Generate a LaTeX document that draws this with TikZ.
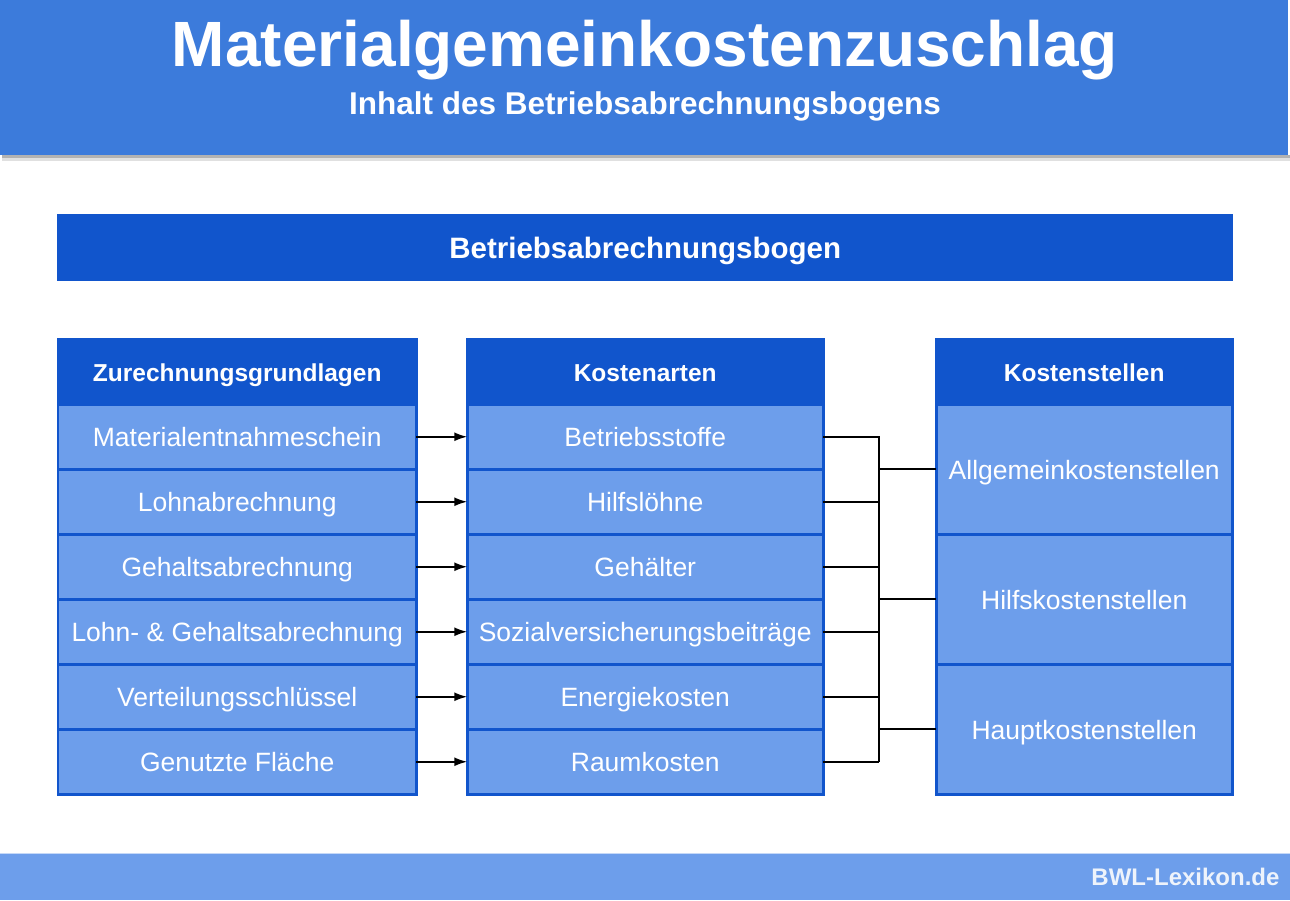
\documentclass[tikz,border=0pt]{standalone}
\usepackage{fontspec}
\setmainfont{Liberation Sans}
\usetikzlibrary{matrix,arrows.meta}
\definecolor{bandblue}{HTML}{3C7BDB}
\definecolor{darkblue}{HTML}{1155CC}
\definecolor{cellblue}{HTML}{6D9EEB}
\definecolor{foottext}{HTML}{EEF3FB}

\tikzset{
	cell/.style={fill=cellblue, draw=darkblue, line width=2.5pt, text=white, font=\fontsize{26.5}{30}\selectfont, text height=21pt, text depth=1pt, minimum height=65pt, outer sep=0pt, inner sep=0pt, anchor=center},
	head/.style={fill=darkblue, font=\fontsize{24.5}{30}\selectfont\bfseries},
	link/.style={line width=1.8pt, -{Latex[length=13pt,width=9pt]}},
	bus/.style={line width=1.8pt},
}

\begin{document}
\begin{tikzpicture}[x=1pt,y=-1pt]
		\useasboundingbox (0,0) rectangle (1290,900);
		% header band
		\fill[black!12] (2,155) rectangle (1290,161);
		\fill[black!30] (2,155) rectangle (1290,158);
		\fill[bandblue] (0,0) rectangle (1288,155);
		\node (title) [text=white, font=\fontsize{64}{68}\selectfont\bfseries] at (645,50) {Materialgemeinkostenzuschlag};
		\node (subtitle) [text=white, font=\fontsize{31.5}{34}\selectfont\bfseries] at (645,106) {Inhalt des Betriebsabrechnungsbogens};
		% title bar
		\node (bab) [fill=darkblue, text=white, font=\fontsize{29.5}{32}\selectfont\bfseries, text height=22pt, text depth=1pt, minimum width=1176pt, minimum height=67pt, anchor=north west] at (57,214) {Betriebsabrechnungsbogen};
		% columns
		\matrix (zg) [matrix of nodes, anchor=north west, inner sep=0pt, outer sep=0pt, row sep=-2.5pt, nodes={cell, minimum width=358pt}, row 1/.style={nodes={head}}] at (57,338)
		{
			Zurechnungsgrundlagen \\
			Materialentnahmeschein \\
			Lohnabrechnung \\
			Gehaltsabrechnung \\
			Lohn- \& Gehaltsabrechnung \\
			Verteilungsschlüssel \\
			Genutzte Fläche \\
		};
		\matrix (ka) [matrix of nodes, anchor=north west, inner sep=0pt, outer sep=0pt, row sep=-2.5pt, nodes={cell, minimum width=356pt}, row 1/.style={nodes={head}}] at (466,338)
		{
			Kostenarten \\
			Betriebsstoffe \\
			Hilfslöhne \\
			Gehälter \\
			Sozialversicherungsbeiträge \\
			Energiekosten \\
			Raumkosten \\
		};
		\matrix (ks) [matrix of nodes, anchor=north west, inner sep=0pt, outer sep=0pt, row sep=-2.5pt, nodes={cell, minimum width=296pt, minimum height=130pt}, row 1/.style={nodes={head, minimum height=65pt}}] at (935,338)
		{
			Kostenstellen \\
			Allgemeinkostenstellen \\
			Hilfskostenstellen \\
			Hauptkostenstellen \\
		};
		% footer
		\fill[cellblue] (0,853) rectangle (1290,900);
		\draw[cellblue!40!white, line width=1pt] (0,853) -- (1290,853);
		\node (site) [anchor=east, text=foottext, font=\fontsize{24}{26}\selectfont\bfseries] at (1283,877) {BWL-Lexikon.de};
		% connectors
		\coordinate (bus) at (879,0);
		\path[link]
		(zg-2-1) edge (ka-2-1)
		(zg-3-1) edge (ka-3-1)
		(zg-4-1) edge (ka-4-1)
		(zg-5-1) edge (ka-5-1)
		(zg-6-1) edge (ka-6-1)
		(zg-7-1) edge (ka-7-1)
		;
		\draw[bus] (ka-2-1.east) -| (ka-7-1.east -| bus);
		\draw[bus] (ka-3-1.east) -- (ka-3-1.east -| bus);
		\draw[bus] (ka-4-1.east) -- (ka-4-1.east -| bus);
		\draw[bus] (ka-5-1.east) -- (ka-5-1.east -| bus);
		\draw[bus] (ka-6-1.east) -- (ka-6-1.east -| bus);
		\draw[bus] (ka-7-1.east) -- (ka-7-1.east -| bus);
		\draw[bus] (ks-2-1.west -| bus) -- (ks-2-1.west);
		\draw[bus] (ks-3-1.west -| bus) -- (ks-3-1.west);
		\draw[bus] (ks-4-1.west -| bus) -- (ks-4-1.west);
	\end{tikzpicture}
\end{document}
